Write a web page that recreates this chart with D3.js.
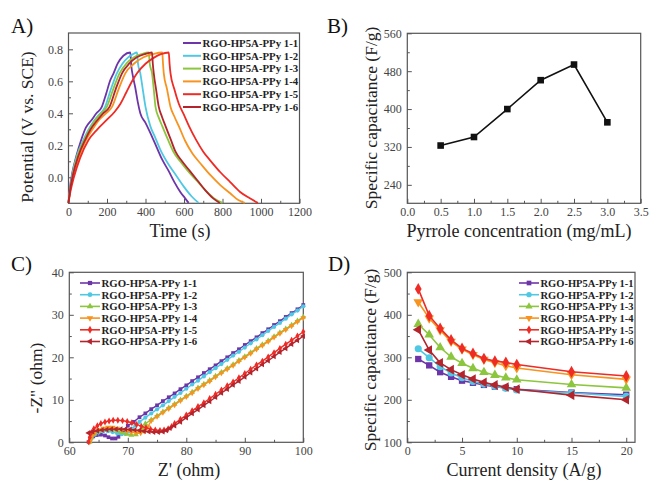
<!DOCTYPE html>
<html>
<head>
<meta charset="utf-8">
<script src="https://cdn.jsdelivr.net/npm/d3@7"></script>
<style>
  body { margin: 0; background: #fff; }
  text { font-family: "Liberation Serif", "Times New Roman", serif; }
</style>
</head>
<body>
<div id="chart"></div>
<script>

// series names and colours (shared by panels A, C, D)
var names = ["RGO-HP5A-PPy 1-1", "RGO-HP5A-PPy 1-2", "RGO-HP5A-PPy 1-3",
             "RGO-HP5A-PPy 1-4", "RGO-HP5A-PPy 1-5", "RGO-HP5A-PPy 1-6"];
var colors = ["#6d35a8", "#4fc8e4", "#8cc63e", "#f7931e", "#ee2b24", "#b3242c"];

// A) charge-discharge curves, [time s, potential V]
var gcd11 = [[0,-0.16],[8,-0.06],[20,0.03],[40,0.13],[65,0.23],[90,0.31],[121,0.36],[145,0.40],[173,0.44],[195,0.52],[215,0.60],[234,0.65],[255,0.71],[285,0.76],[321,0.78],
             [326,0.70],[335,0.63],[347,0.56],[360,0.47],[373,0.40],[400,0.34],[443,0.23],[487,0.11],[520,0.04],[550,-0.03],[580,-0.09],[605,-0.13],[624,-0.16]];
var gcd12 = [[0,-0.16],[8,-0.07],[20,0.02],[45,0.14],[77,0.233],[100,0.29],[125,0.34],[150,0.38],[190,0.44],[220,0.55],[251,0.65],[280,0.71],[310,0.75],[335,0.77],[356,0.78],
             [361,0.71],[373,0.65],[387,0.54],[400,0.44],[425,0.32],[450,0.25],[478,0.17],[520,0.08],[560,0.01],[600,-0.06],[640,-0.12],[676,-0.16]];
var gcd13 = [[0,-0.16],[8,-0.08],[22,0.02],[48,0.14],[81,0.233],[110,0.30],[140,0.36],[170,0.40],[199,0.44],[232,0.55],[265,0.65],[300,0.71],[340,0.75],[380,0.77],[417,0.78],
             [422,0.71],[434,0.65],[443,0.55],[452,0.44],[470,0.37],[487,0.32],[515,0.24],[545,0.16],[580,0.10],[620,0.04],[665,-0.02],[710,-0.08],[755,-0.13],[800,-0.16]];
var gcd14 = [[0,-0.16],[8,-0.09],[22,0.0],[52,0.12],[91,0.233],[125,0.30],[160,0.36],[195,0.40],[226,0.44],[260,0.55],[295,0.65],[340,0.71],[390,0.75],[440,0.77],[487,0.78],
             [491,0.71],[495,0.65],[512,0.55],[530,0.44],[550,0.38],[573,0.32],[605,0.23],[643,0.15],[690,0.08],[740,0.01],[790,-0.05],[840,-0.10],[880,-0.14],[916,-0.16]];
var gcd15 = [[0,-0.16],[10,-0.09],[28,0.0],[60,0.12],[104,0.233],[150,0.30],[200,0.36],[240,0.41],[270,0.46],[300,0.53],[330,0.60],[356,0.65],[400,0.71],[440,0.745],[480,0.77],[521,0.78],
             [525,0.71],[530,0.65],[550,0.55],[573,0.46],[600,0.39],[626,0.32],[660,0.24],[700,0.16],[740,0.10],[790,0.03],[840,-0.03],[890,-0.09],[940,-0.13],[984,-0.16]];
var gcd16 = [[0,-0.16],[8,-0.08],[22,0.01],[50,0.13],[86,0.233],[115,0.30],[145,0.35],[180,0.40],[213,0.44],[245,0.55],[278,0.65],[315,0.71],[355,0.75],[395,0.77],[434,0.78],
             [438,0.71],[443,0.65],[455,0.55],[469,0.44],[485,0.38],[504,0.32],[530,0.24],[556,0.16],[590,0.10],[630,0.04],[670,-0.02],[710,-0.08],[750,-0.13],[786,-0.16]];

// B) capacitance vs pyrrole concentration
var pyrrole = [0.5, 1.0, 1.5, 2.0, 2.5, 3.0];
var capB = [323, 341, 400, 461, 494, 372];

// C) Nyquist plots, [Z' ohm, -Z'' ohm]
var eis11 = [[63.3,0.1],[63.6,0.8],[64.1,1.4],[64.7,1.7],[65.4,1.8],[66.1,1.6],[66.7,1.2],[67.3,0.9],[67.9,0.9],[68.4,1.3],[68.9,2.0],[69.4,2.9],[70,3.9],[71,4.8],[72,5.9],[73,6.8],[74,7.8],[75,8.7],[76,9.7],[77,10.6],[78,11.5],[79,12.5],[80,13.4],[81,14.4],[82,15.3],[83,16.3],[84,17.2],[85,18.1],[86,19.1],[87,20.0],[88,21.0],[89,21.9],[90,22.9],[91,23.8],[92,24.7],[93,25.7],[94,26.6],[95,27.6],[96,28.5],[97,29.5],[98,30.4],[99,31.3],[100,32.3]];
var eis12 = [[63.5,0.1],[63.8,1.0],[64.3,1.8],[65,2.3],[65.8,2.6],[66.6,2.6],[67.4,2.4],[68.2,2.1],[68.9,1.9],[69.6,2.0],[70.2,2.5],[70.7,3.2],[71.3,3.9],[72,4.8],[73,5.8],[74,6.8],[75,7.75],[76,8.7],[77,9.7],[78,10.7],[79,11.6],[80,12.6],[81,13.6],[82,14.5],[83,15.5],[84,16.5],[85,17.45],[86,18.4],[87,19.4],[88,20.4],[89,21.3],[90,22.3],[91,23.3],[92,24.2],[93,25.2],[94,26.2],[95,27.15],[96,28.1],[97,29.1],[98,30.1],[99,31.0],[100,32.0]];
var eis13 = [[63.5,0.1],[63.8,1.1],[64.3,2.0],[65,2.6],[65.8,3.0],[66.6,3.1],[67.4,3.0],[68.2,2.7],[69,2.3],[69.8,1.9],[70.6,1.7],[71.4,1.8],[72,2.4],[72.5,3.3],[73,4.4],[74,5.3],[75,6.25],[76,7.2],[77,8.1],[78,9.0],[79,10.0],[80,10.9],[81,11.8],[82,12.8],[83,13.7],[84,14.6],[85,15.6],[86,16.5],[87,17.4],[88,18.3],[89,19.3],[90,20.2],[91,21.1],[92,22.1],[93,23.0],[94,23.9],[95,24.9],[96,25.8],[97,26.7],[98,27.6],[99,28.6],[100,29.5]];
var eis14 = [[63.5,0.1],[63.8,1.2],[64.3,2.2],[65,2.9],[65.8,3.3],[66.6,3.5],[67.4,3.5],[68.2,3.3],[69,3.0],[69.8,2.7],[70.6,2.4],[71.4,2.2],[72.2,2.2],[72.8,2.6],[73.4,3.6],[74,5.1],[75,6.05],[76,7.0],[77,7.9],[78,8.8],[79,9.8],[80,10.7],[81,11.6],[82,12.6],[83,13.5],[84,14.4],[85,15.4],[86,16.3],[87,17.2],[88,18.1],[89,19.1],[90,20.0],[91,20.9],[92,21.9],[93,22.8],[94,23.7],[95,24.7],[96,25.6],[97,26.5],[98,27.4],[99,28.4],[100,29.3]];
var eis15 = [[63.3,0.1],[63.5,1.2],[63.8,2.3],[64.2,3.2],[64.8,3.9],[65.4,4.4],[66.1,4.8],[66.8,5.0],[67.5,5.2],[68.3,5.2],[69.1,5.1],[69.9,4.9],[70.7,4.6],[71.5,4.2],[72.3,3.8],[73.1,3.4],[73.9,3.1],[74.7,2.9],[75.5,2.8],[76.2,2.9],[76.9,3.2],[77.5,3.7],[78,4.4],[79,5.4],[80,6.4],[81,7.4],[82,8.4],[83,9.3],[84,10.3],[85,11.3],[86,12.3],[87,13.3],[88,14.2],[89,15.2],[90,16.2],[91,17.2],[92,18.2],[93,19.1],[94,20.1],[95,21.1],[96,22.1],[97,23.1],[98,24.0],[99,25.0],[100,26.0]];
var eis16 = [[63.3,2.2],[64,2.5],[64.8,2.7],[65.6,2.9],[66.4,3.0],[67.2,3.1],[68,3.1],[68.8,3.1],[69.6,3.1],[70.4,3.0],[71.2,2.9],[72,2.8],[72.8,2.6],[73.6,2.5],[74.4,2.4],[75.2,2.4],[76,2.5],[76.6,2.8],[77.2,3.3],[78,3.9],[79,4.8],[80,5.8],[81,6.8],[82,7.7],[83,8.7],[84,9.6],[85,10.6],[86,11.6],[87,12.5],[88,13.5],[89,14.4],[90,15.4],[91,16.4],[92,17.3],[93,18.3],[94,19.2],[95,20.2],[96,21.2],[97,22.1],[98,23.1],[99,24.0],[100,25.0]];

// D) capacitance vs current density
var density = [1, 2, 3, 4, 5, 6, 7, 8, 9, 10, 15, 20];
var cap11 = [296, 281, 265, 254, 245, 240, 235, 231, 228, 225, 217, 212];
var cap12 = [320, 299, 278, 263, 252, 243, 237, 232, 227, 223, 216, 208];
var cap13 = [378, 353, 323, 301, 286, 274, 265, 258, 252, 247, 236, 228];
var cap14 = [430, 392, 364, 337, 319, 306, 295, 287, 280, 275, 259, 248];
var cap15 = [461, 398, 368, 341, 321, 309, 297, 291, 288, 283, 266, 256];
var cap16 = [365, 317, 287, 271, 259, 249, 241, 235, 230, 225, 211, 200];

var gcdAll = [gcd11, gcd12, gcd13, gcd14, gcd15, gcd16];
var eisAll = [eis11, eis12, eis13, eis14, eis15, eis16];
var capAll = [cap11, cap12, cap13, cap14, cap15, cap16];

// marker shapes: square, circle, up, down, diamond, left
var symTypes = [d3.symbolSquare, d3.symbolCircle, d3.symbolTriangle, d3.symbolTriangle, d3.symbolDiamond, d3.symbolTriangle];
var symRot = [0, 0, 0, 180, 0, -90];

var svg = d3.select("#chart")
  .append("svg")
    .attr("width", 651)
    .attr("height", 481);

// builds frame, inward major/minor ticks and tick labels
function makePanel(box, xDom, yDom, xMaj, xMin, yMaj, yMin, xFmt, yFmt) {
  var x = d3.scaleLinear().domain(xDom).range([box.l, box.r]);
  var y = d3.scaleLinear().domain(yDom).range([box.b, box.t]);
  var g = svg.append("g");

  g.append("g").attr("class", "ax")
    .attr("transform", "translate(0," + box.b + ")")
    .call(d3.axisBottom(x).tickValues(xMin).tickSizeInner(-2.5).tickSizeOuter(0).tickFormat(""));
  g.append("g").attr("class", "ax")
    .attr("transform", "translate(0," + box.b + ")")
    .call(d3.axisBottom(x).tickValues(xMaj).tickSizeInner(-4.5).tickSizeOuter(0).tickPadding(4.5).tickFormat(xFmt));
  g.append("g").attr("class", "ax")
    .attr("transform", "translate(" + box.l + ",0)")
    .call(d3.axisLeft(y).tickValues(yMin).tickSizeInner(-2.5).tickSizeOuter(0).tickFormat(""));
  g.append("g").attr("class", "ax")
    .attr("transform", "translate(" + box.l + ",0)")
    .call(d3.axisLeft(y).tickValues(yMaj).tickSizeInner(-4.5).tickSizeOuter(0).tickPadding(5.5).tickFormat(yFmt));

  g.selectAll(".ax path").remove();
  g.selectAll(".ax line").attr("stroke", "#555").attr("stroke-width", 1);
  g.selectAll(".ax text")
    .attr("font-family", "'Liberation Serif', serif")
    .attr("font-size", 12)
    .attr("fill", "#444");

  g.append("rect")
    .attr("x", box.l).attr("y", box.t)
    .attr("width", box.r - box.l).attr("height", box.b - box.t)
    .attr("fill", "none").attr("stroke", "#555").attr("stroke-width", 1.2);

  return {x: x, y: y, g: g};
}

function title(txt, x, y, rot, size) {
  svg.append("text")
    .attr("transform", "translate(" + x + "," + y + ")" + (rot ? "rotate(-90)" : ""))
    .attr("text-anchor", "middle")
    .attr("font-size", size || 17.5)
    .attr("fill", "#222")
    .text(txt);
}

function label(txt, x, y) {
  svg.append("text").attr("x", x).attr("y", y)
    .attr("font-size", 21).attr("fill", "#111").text(txt);
}

function marker(sel, i, size) {
  sel.attr("d", d3.symbol().type(symTypes[i]).size(size))
    .attr("fill", colors[i]);
}

// ---------------- A) ----------------
var A = makePanel({l: 68.5, r: 299.5, t: 33, b: 203.3}, [0, 1200], [-0.1625, 0.902],
  d3.range(0, 1201, 200), d3.range(100, 1200, 200),
  [0, 0.2, 0.4, 0.6, 0.8], [0.1, 0.3, 0.5, 0.7],
  d3.format("d"), d3.format(".1f"));

var lineA = d3.line()
  .x(function(d) { return A.x(d[0]); })
  .y(function(d) { return A.y(d[1]); })
  .curve(d3.curveMonotoneX);

gcdAll.forEach(function(s, i) {
  A.g.append("path").datum(s)
    .attr("d", lineA)
    .attr("fill", "none")
    .attr("stroke", colors[i])
    .attr("stroke-width", 1.8);
});

names.forEach(function(n, i) {
  var yy = 43 + i * 12.8;
  A.g.append("line").attr("x1", 183).attr("x2", 201).attr("y1", yy).attr("y2", yy)
    .attr("stroke", colors[i]).attr("stroke-width", 2);
  A.g.append("text").attr("x", 202.5).attr("y", yy + 3.8)
    .attr("font-size", 10.8).attr("font-weight", "bold").attr("fill", "#222").text(n);
});

label("A)", 11, 33);
title("Time (s)", 180, 237, false, 18);
title("Potential (V vs. SCE)", 33, 127, true);

// ---------------- B) ----------------
var B = makePanel({l: 407.3, r: 640.7, t: 33.3, b: 203.3}, [0, 3.5], [201, 560],
  d3.range(0, 3.51, 0.5), d3.range(0.25, 3.5, 0.5),
  [240, 320, 400, 480, 560], [280, 360, 440, 520],
  d3.format(".1f"), d3.format("d"));

var lineB = d3.line()
  .x(function(d, i) { return B.x(pyrrole[i]); })
  .y(function(d) { return B.y(d); });

B.g.append("path").datum(capB)
  .attr("d", lineB)
  .attr("fill", "none")
  .attr("stroke", "#111")
  .attr("stroke-width", 1.6);

B.g.selectAll(".pt").data(capB).enter()
  .append("rect")
    .attr("x", function(d, i) { return B.x(pyrrole[i]) - 3.3; })
    .attr("y", function(d) { return B.y(d) - 3.3; })
    .attr("width", 6.6).attr("height", 6.6)
    .attr("fill", "#111");

label("B)", 327, 33);
title("Pyrrole concentration (mg/mL)", 519, 237, false, 18);
title("Specific capacitance (F/g)", 377, 118, true);

// ---------------- C) ----------------
var C = makePanel({l: 69.3, r: 303.3, t: 272.3, b: 442.3}, [60, 100], [0, 40],
  [60, 70, 80, 90, 100], [65, 75, 85, 95],
  [0, 10, 20, 30, 40], [5, 15, 25, 35],
  d3.format("d"), d3.format("d"));

var lineC = d3.line()
  .x(function(d) { return C.x(d[0]); })
  .y(function(d) { return C.y(d[1]); });

eisAll.forEach(function(s, i) {
  var gg = C.g.append("g");
  gg.append("path").datum(s)
    .attr("d", lineC)
    .attr("fill", "none")
    .attr("stroke", colors[i])
    .attr("stroke-width", 1.4);
  gg.selectAll("path.m").data(s).enter()
    .append("path").attr("class", "m")
    .attr("transform", function(d) { return "translate(" + C.x(d[0]) + "," + C.y(d[1]) + ") rotate(" + symRot[i] + ")"; })
    .call(marker, i, 14);
});

names.forEach(function(n, i) {
  var yy = 283 + i * 11.7;
  C.g.append("line").attr("x1", 80).attr("x2", 100).attr("y1", yy).attr("y2", yy)
    .attr("stroke", colors[i]).attr("stroke-width", 1.6);
  C.g.append("path")
    .attr("transform", "translate(90," + yy + ") rotate(" + symRot[i] + ")")
    .call(marker, i, 18);
  C.g.append("text").attr("x", 101.5).attr("y", yy + 3.8)
    .attr("font-size", 10.8).attr("font-weight", "bold").attr("fill", "#222").text(n);
});

label("C)", 11, 271);
title("Z' (ohm)", 189, 476, false, 18);
title("-Z\" (ohm)", 42, 378, true);

// ---------------- D) ----------------
var D = makePanel({l: 407.3, r: 635, t: 272.3, b: 442.3}, [0, 20.8], [100, 500],
  [0, 5, 10, 15, 20], [2.5, 7.5, 12.5, 17.5],
  [100, 200, 300, 400, 500], [150, 250, 350, 450],
  d3.format("d"), d3.format("d"));

var lineD = d3.line()
  .x(function(d, i) { return D.x(density[i]); })
  .y(function(d) { return D.y(d); });

capAll.forEach(function(s, i) {
  var gg = D.g.append("g");
  gg.append("path").datum(s)
    .attr("d", lineD)
    .attr("fill", "none")
    .attr("stroke", colors[i])
    .attr("stroke-width", 1.6);
  gg.selectAll("path.m").data(s).enter()
    .append("path").attr("class", "m")
    .attr("transform", function(d, j) { return "translate(" + D.x(density[j]) + "," + D.y(d) + ") rotate(" + symRot[i] + ")"; })
    .call(marker, i, 40);
});

names.forEach(function(n, i) {
  var yy = 283 + i * 11.7;
  D.g.append("line").attr("x1", 519).attr("x2", 539).attr("y1", yy).attr("y2", yy)
    .attr("stroke", colors[i]).attr("stroke-width", 1.6);
  D.g.append("path")
    .attr("transform", "translate(529," + yy + ") rotate(" + symRot[i] + ")")
    .call(marker, i, 22);
  D.g.append("text").attr("x", 540.5).attr("y", yy + 3.8)
    .attr("font-size", 10.5).attr("font-weight", "bold").attr("fill", "#222").text(n);
});

label("D)", 328, 271);
title("Current density (A/g)", 524, 476, false, 18);
title("Specific capacitance (F/g)", 376, 360, true);

</script>
</body>
</html>
